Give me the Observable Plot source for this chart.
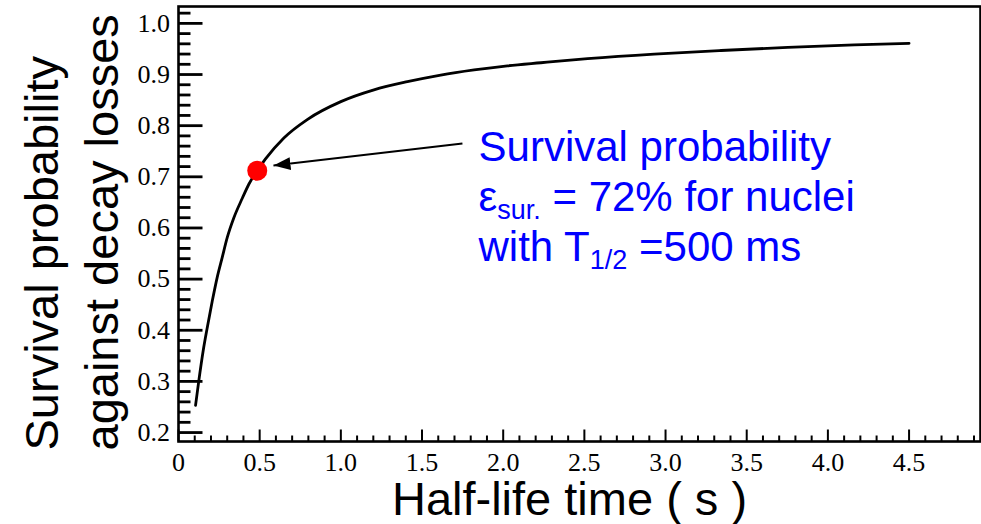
<!DOCTYPE html>
<html><head><meta charset="utf-8">
<script src="https://cdn.jsdelivr.net/npm/d3@7"></script>
<script src="https://cdn.jsdelivr.net/npm/@observablehq/plot@0.6"></script>
<style>html,body{margin:0;padding:0;background:#fff;} #chart svg{display:block;}</style>
</head><body><div id="chart"></div>
<script>
// Curve
const halfLife = [0.105, 0.125, 0.152, 0.177, 0.208, 0.238, 0.269, 0.300, 0.341, 0.393, 0.434, 0.485, 0.536, 0.649, 0.793, 1.0, 1.204, 1.41, 1.615, 1.821, 2.026, 2.232, 2.52, 2.93, 3.342, 3.753, 4.163, 4.5];
const survival = [0.253, 0.301, 0.360, 0.405, 0.457, 0.503, 0.542, 0.581, 0.620, 0.658, 0.686, 0.712, 0.735, 0.776, 0.812, 0.847, 0.870, 0.886, 0.899, 0.909, 0.917, 0.923, 0.931, 0.940, 0.947, 0.953, 0.958, 0.961];

// Highlighted point
const highlightX = [0.485];
const highlightY = [0.712];

// Axis ticks
const xMajorTicks = [0, 0.5, 1.0, 1.5, 2.0, 2.5, 3.0, 3.5, 4.0, 4.5];
const xTickLabels = ["0", "0.5", "1.0", "1.5", "2.0", "2.5", "3.0", "3.5", "4.0", "4.5"];
const yMajorTicks = [0.2, 0.3, 0.4, 0.5, 0.6, 0.7, 0.8, 0.9, 1.0];
const yTickLabels = ["0.2", "0.3", "0.4", "0.5", "0.6", "0.7", "0.8", "0.9", "1.0"];
const xMinorTicks = d3.range(1, 50).map(i => i / 10).filter(v => !xMajorTicks.some(m => Math.abs(m - v) < 1e-9));
const yMinorTicks = d3.range(10, 52).map(i => i / 50).filter(v => !yMajorTicks.some(m => Math.abs(m - v) < 1e-9));

// Texts
const xTitle = "Half-life time ( s )";
const yTitle = "Survival probability\nagainst decay losses";
const annoSegments = [
  [["Survival probability", false]],
  [["ε", false], ["sur.", true], [" = 72% for nuclei", false]],
  [["with T", false], ["1/2", true], [" =500 ms", false]]
];
const annoX = [1.848];
const annoY = [0.80];

// Arrow (text -> point)
const arrowX1 = [1.749], arrowY1 = [0.765];
const arrowX2 = [0.585], arrowY2 = [0.722];

const curve = halfLife.map((t, i) => ({t, p: survival[i]}));
const highlight = highlightX.map((x, i) => ({x, y: highlightY[i]}));
const arrow = arrowX1.map((x1, i) => ({x1, y1: arrowY1[i], x2: arrowX2[i], y2: arrowY2[i]}));
const annoText = annoSegments.map(seg => seg.map(s => s[0]).join("")).join("\n");

const tickShape = {draw(context, l) { context.moveTo(0, 0); context.lineTo(0, -l); }};
const serif = "'Liberation Serif', 'Times New Roman', serif";
const sans = "'Liberation Sans', Arial, Helvetica, sans-serif";

const chart = Plot.plot({
  width: 981, height: 524,
  marginLeft: 178, marginRight: 1, marginTop: 6, marginBottom: 83,
  x: {domain: [0, 4.94], label: null},
  y: {domain: [0.1825, 1.033], label: null},
  style: {background: "#fff", color: "#000", fontFamily: sans, overflow: "visible"},
  marks: [
    Plot.frame({stroke: "#000", strokeWidth: 2.6}),
    Plot.vector(xMajorTicks, {x: d => d, frameAnchor: "bottom", length: 12, rotate: 0, anchor: "start", shape: tickShape, stroke: "#000", strokeWidth: 2, strokeLinecap: "butt"}),
    Plot.vector(xMinorTicks, {x: d => d, frameAnchor: "bottom", length: 6, rotate: 0, anchor: "start", shape: tickShape, stroke: "#000", strokeWidth: 2, strokeLinecap: "butt"}),
    Plot.vector(yMajorTicks, {y: d => d, frameAnchor: "left", length: 24, rotate: 90, anchor: "start", shape: tickShape, stroke: "#000", strokeWidth: 2.8, strokeLinecap: "butt"}),
    Plot.vector(yMinorTicks, {y: d => d, frameAnchor: "left", length: 12, rotate: 90, anchor: "start", shape: tickShape, stroke: "#000", strokeWidth: 2.8, strokeLinecap: "butt"}),
    Plot.axisX({ticks: xMajorTicks, tickFormat: d => xTickLabels[xMajorTicks.indexOf(d)], tickSize: 0, tickPadding: 11, fontSize: 26, fontFamily: serif, label: null}),
    Plot.axisY({ticks: yMajorTicks, tickFormat: d => yTickLabels[yMajorTicks.indexOf(d)], tickSize: 0, tickPadding: 8.5, fontSize: 26, fontFamily: serif, label: null}),
    Plot.line(curve, {x: "t", y: "p", curve: "monotone-x", stroke: "#000", strokeWidth: 2.8}),
    Plot.link(arrow, {x1: "x1", y1: "y1", x2: "x2", y2: "y2", stroke: "#000", strokeWidth: 2, markerEnd: "arrow"}),
    Plot.dot(highlight, {x: "x", y: "y", r: 10, fill: "#ff0000", stroke: "none"}),
    Plot.text([annoText], {x: () => annoX[0], y: () => annoY[0], textAnchor: "start", lineAnchor: "top", lineHeight: 1.19, fontSize: 42, fill: "#0000ff", fontFamily: sans}),
    Plot.text([xTitle], {frameAnchor: "bottom", dx: -10, dy: 73, lineAnchor: "bottom", fontSize: 47, fill: "#000", fontFamily: sans}),
    Plot.text([yTitle], {frameAnchor: "bottom-left", rotate: -90, textAnchor: "start", lineAnchor: "middle", lineHeight: 1.277, dx: -110, dy: 9, fontSize: 47, fill: "#000", fontFamily: sans})
  ]
});

// Filled arrowhead
const NS = "http://www.w3.org/2000/svg";
chart.querySelectorAll("marker").forEach(m => {
  m.setAttribute("viewBox", "-17 -6.5 17 13");
  m.setAttribute("markerWidth", 17);
  m.setAttribute("markerHeight", 13);
  m.setAttribute("markerUnits", "userSpaceOnUse");
  m.setAttribute("refX", 0);
  m.setAttribute("refY", 0);
  m.setAttribute("fill", "#000");
  m.setAttribute("stroke", "none");
  while (m.firstChild) m.removeChild(m.firstChild);
  const p = document.createElementNS(NS, "path");
  p.setAttribute("d", "M-17,-6.5L0,0L-17,6.5Z");
  m.appendChild(p);
});

// Subscripts in the annotation
const subSize = 27, subShift = 8;
const annoLines = annoSegments.map(seg => seg.map(s => s[0]).join(""));
chart.querySelectorAll("tspan").forEach(ts => {
  const idx = annoLines.indexOf(ts.textContent);
  if (idx < 0) return;
  const segs = annoSegments[idx];
  if (segs.length === 1) return;
  ts.textContent = "";
  let shift = 0;
  segs.forEach(([str, sub]) => {
    const s = document.createElementNS(NS, "tspan");
    const target = sub ? subShift : 0;
    if (target !== shift) s.setAttribute("dy", target - shift);
    shift = target;
    if (sub) s.setAttribute("font-size", subSize);
    s.textContent = str;
    ts.appendChild(s);
  });
});

document.getElementById("chart").appendChild(chart);
</script>
</body></html>
